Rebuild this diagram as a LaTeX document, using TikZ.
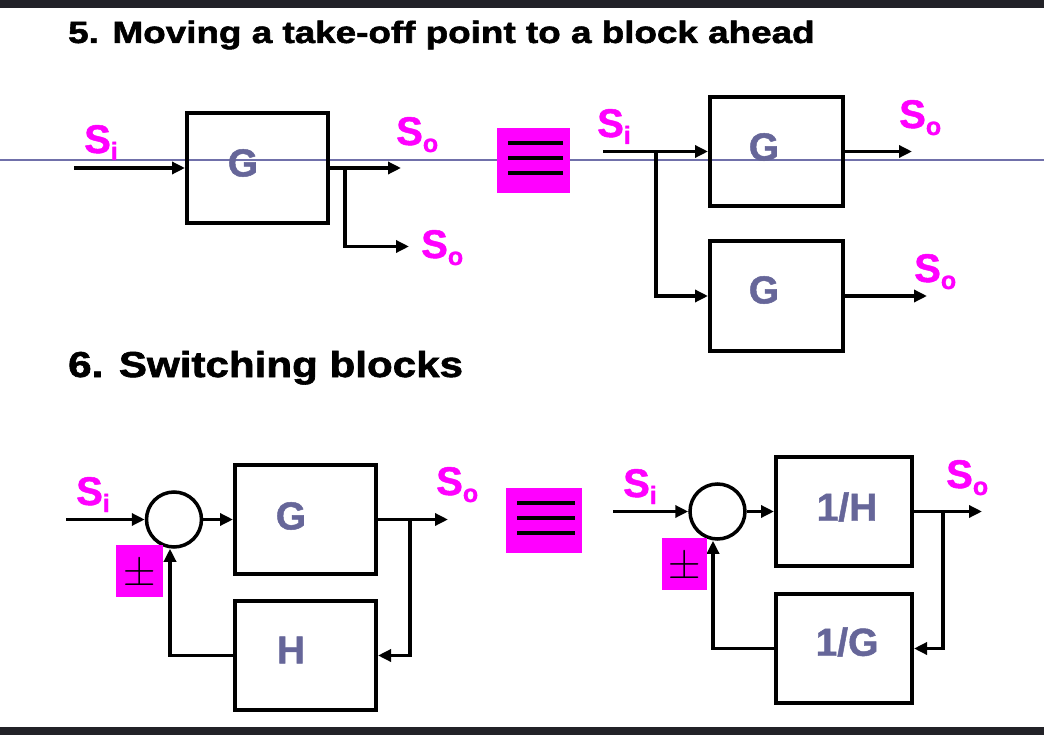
\documentclass[tikz,border=0pt]{standalone}
\usepackage{fontspec}
\setmainfont{Liberation Sans}
\newfontfamily\heavyfont[FakeBold=1.6]{Liberation Sans Bold}
\newfontfamily\boldfont[FakeBold=1.2]{Liberation Sans Bold}
\newfontfamily\lmfont{Latin Modern Roman}
\usetikzlibrary{arrows.meta}
\definecolor{sigmag}{RGB}{255,0,255}
\definecolor{blkblue}{RGB}{102,102,153}
\definecolor{rulecol}{RGB}{112,112,170}
\definecolor{band}{RGB}{34,34,40}
\newcommand{\sigS}[1]{S\raisebox{-7pt}{\fontsize{25}{25}\selectfont #1}}
\tikzset{
  blk/.style={draw, line width=4pt, inner sep=0pt},
  lbl/.style={font=\fontsize{39}{39}\boldfont, text=blkblue, inner sep=0pt},
  sig/.style={font=\fontsize{40}{40}\boldfont, text=sigmag, inner sep=0pt, anchor=base west},
  ttl/.style={anchor=base west, inner sep=0pt},
  wire/.style={line width=3.5pt},
  flow/.style={wire, -{Triangle[length=13pt,width=12pt]}},
  sumpt/.style={circle, draw, line width=3.5pt, minimum size=55pt, inner sep=0pt},
  pmbox/.style={fill=sigmag, inner sep=0pt, font=\fontsize{45}{45}\lmfont},
  eqv/.style={fill=sigmag, inner sep=0pt},
  bar/.style={line width=4.5pt},
}
\begin{document}
\begin{tikzpicture}[x=1pt,y=-1pt]
    \useasboundingbox (0,0) rectangle (1044,735);
    \fill[white] (0,0) rectangle (1044,735);
    \fill[band] (0,0) rectangle (1044,8);
    \fill[band] (0,727) rectangle (1044,735);
    \draw[rulecol, line width=1.5pt] (0,160) -- (1044,160);

    \node[ttl, font=\fontsize{30.7}{30.7}\heavyfont] (ttlA) at (68,43) {\scalebox{1.2}[1]{5. Moving a take-off point to a block ahead}};
    \node[ttl, font=\fontsize{36}{36}\heavyfont] (ttlB) at (68,377) {\scalebox{1.17}[1]{6. Switching blocks}};

    % 5, before
    \node[blk, minimum width=141, minimum height=110] (gA) at (257.5,168) {};
    \node[lbl] (gAt) at (243,163) {G};
    \coordinate (inA) at (74,168);
    \coordinate (tapA) at (345,168);
    \coordinate (outA) at (401,168);
    \coordinate (outA2) at (409,246.5);
    \draw[flow] (inA) -- (gA.west);
    \draw[flow] (gA.east) -- (outA);
    \draw[flow] (tapA) |- (outA2);
    \node[sig] (siA) at (84,153) {\sigS{i}};
    \node[sig] (soA) at (396,145) {\sigS{o}};
    \node[sig] (soA2) at (421,258) {\sigS{o}};

    \node[eqv, minimum width=73, minimum height=65] (eqA) at (533.5,160.5) {};
    \foreach \dy in {-17.5,-2.5,12.5}
        \draw[bar] ([xshift=-25.5,yshift=-\dy]eqA.center) -- ++(55,0);

    % 5, after
    \node[blk, minimum width=133, minimum height=109] (gB) at (776.5,151.5) {};
    \node[lbl] (gBt) at (764,147) {G};
    \node[blk, minimum width=133, minimum height=110] (gC) at (776.5,296) {};
    \node[lbl] (gCt) at (764,290) {G};
    \coordinate (inB) at (603,151.5);
    \coordinate (tapB) at (656,151.5);
    \coordinate (outB) at (912,151.5);
    \coordinate (outC) at (927,296);
    \draw[flow] (inB) -- (gB.west);
    \draw[flow] (tapB) |- (gC.west);
    \draw[flow] (gB.east) -- (outB);
    \draw[flow] (gC.east) -- (outC);
    \node[sig] (siB) at (597,137) {\sigS{i}};
    \node[sig] (soB) at (899,128) {\sigS{o}};
    \node[sig] (soC) at (914,282) {\sigS{o}};

    % 6, before
    \node[sumpt] (sumA) at (174,519.5) {};
    \node[blk, minimum width=141, minimum height=109] (gD) at (305.5,519.5) {};
    \node[lbl] (gDt) at (291,516) {G};
    \node[blk, minimum width=141, minimum height=109] (hD) at (305.5,655.5) {};
    \node[lbl] (hDt) at (291,650) {H};
    \coordinate (inD) at (66,519.5);
    \coordinate (tapD) at (410,519.5);
    \coordinate (outD) at (448,519.5);
    \draw[flow] (inD) -- (sumA.west);
    \draw[flow] (sumA.east) -- (gD.west);
    \draw[flow] (gD.east) -- (outD);
    \draw[flow] (tapD) |- (hD.east);
    \draw[flow] (hD.west) -| ([xshift=-4]sumA.south);
    \node[pmbox, minimum width=47, minimum height=52] (pmA) at (139.5,571) {±};
    \node[sig] (siD) at (76,505) {\sigS{i}};
    \node[sig] (soD) at (436,495) {\sigS{o}};

    \node[eqv, minimum width=76, minimum height=65] (eqB) at (544,520.5) {};
    \foreach \dy in {-17.5,-2.5,12.5}
        \draw[bar] ([xshift=-27,yshift=-\dy]eqB.center) -- ++(58,0);

    % 6, after
    \node[sumpt] (sumB) at (717.5,511.5) {};
    \node[blk, minimum width=136, minimum height=109] (hB) at (844,511.5) {};
    \node[lbl] (hBt) at (847,507) {1/H};
    \node[blk, minimum width=136, minimum height=109] (gE) at (844,648.5) {};
    \node[lbl] (gEt) at (847,642) {1/G};
    \coordinate (inB2) at (613,511.5);
    \coordinate (tapE) at (943,511.5);
    \coordinate (outE) at (982,511.5);
    \draw[flow] (inB2) -- (sumB.west);
    \draw[flow] (sumB.east) -- (hB.west);
    \draw[flow] (hB.east) -- (outE);
    \draw[flow] (tapE) |- (gE.east);
    \draw[flow] (gE.west) -| ([xshift=-4.5]sumB.south);
    \node[pmbox, minimum width=45, minimum height=52] (pmB) at (684.5,564) {±};
    \node[sig] (siE) at (623,497) {\sigS{i}};
    \node[sig] (soE) at (946,488) {\sigS{o}};
\end{tikzpicture}
\end{document}
